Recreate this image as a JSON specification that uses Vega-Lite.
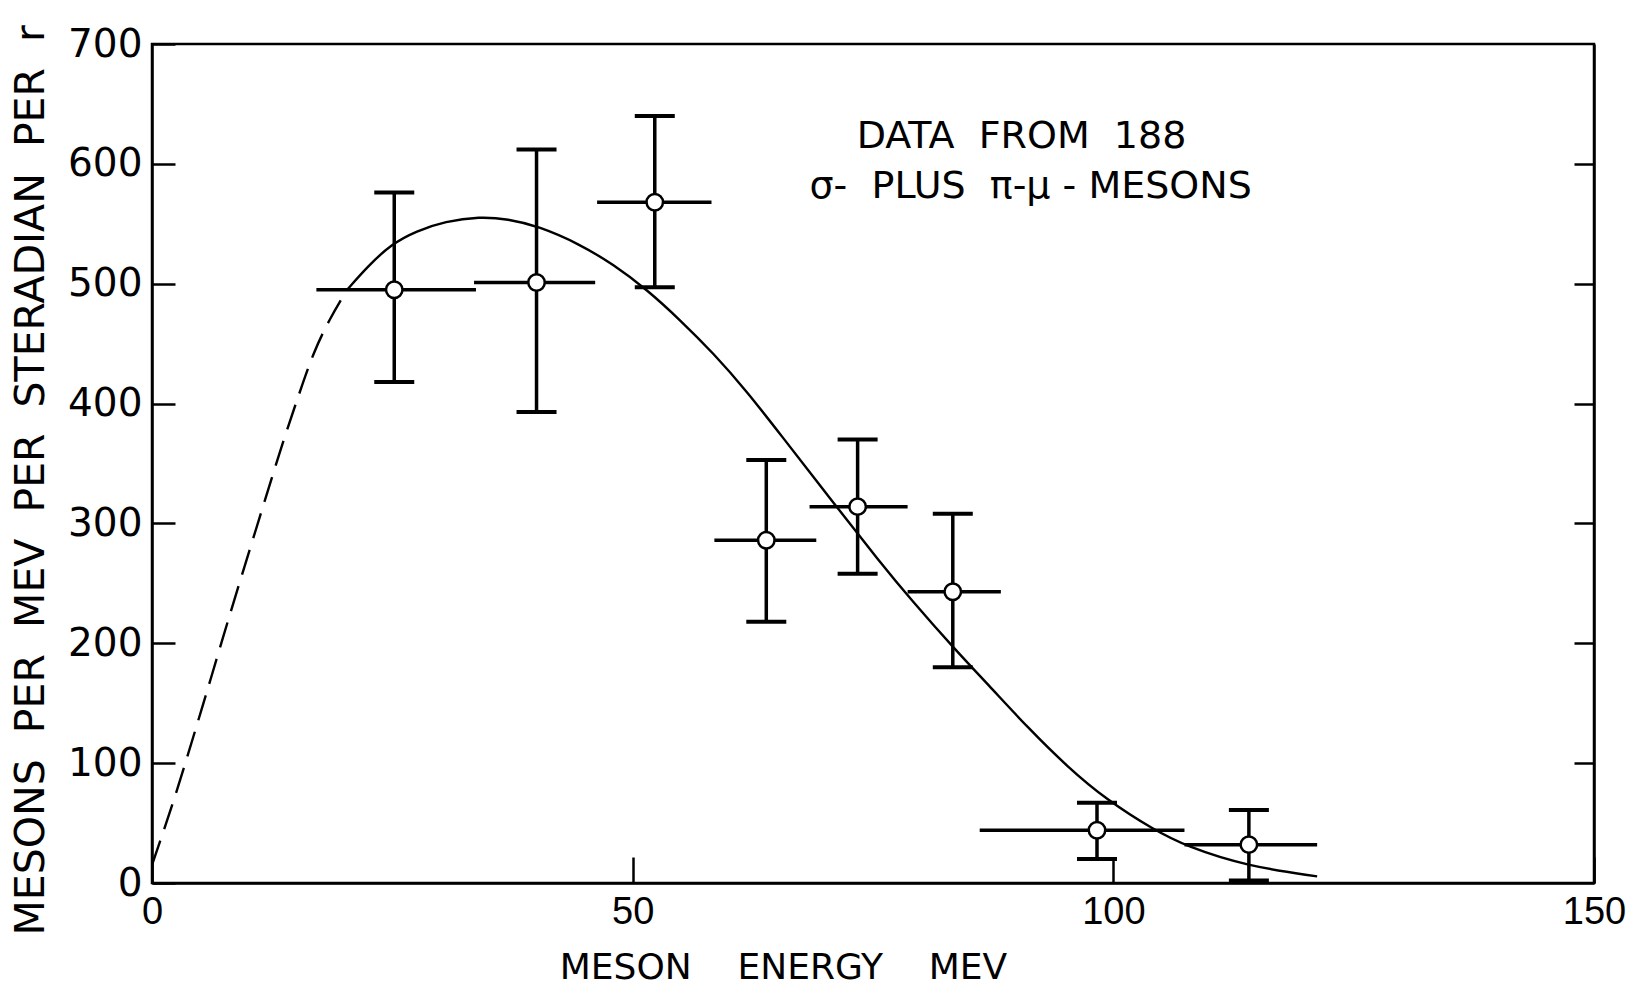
{
  "$schema": "https://vega.github.io/schema/vega-lite/v6.json",
  "width": 1442,
  "height": 839,
  "autosize": "none",
  "padding": {"left": 152, "top": 44, "right": 45, "bottom": 103},
  "background": "white",
  "config": {
    "view": {"stroke": "black", "strokeWidth": 2.5},
    "axis": {
      "grid": false,
      "domainColor": "black",
      "domainWidth": 2.5,
      "tickColor": "black",
      "tickWidth": 2.5,
      "labelColor": "black",
      "titleColor": "black",
      "labelFlush": false,
      "labelOverlap": false,
      "titleFontWeight": "normal"
    }
  },
  "datasets": {
    "points": [
      {"energy": 25.2, "rate": 495, "rate_lo": 418, "rate_hi": 576, "energy_lo": 17.1, "energy_hi": 33.7},
      {"energy": 40.0, "rate": 501, "rate_lo": 393, "rate_hi": 612, "energy_lo": 33.5, "energy_hi": 46.1},
      {"energy": 52.3, "rate": 568, "rate_lo": 497, "rate_hi": 640, "energy_lo": 46.3, "energy_hi": 58.2},
      {"energy": 63.9, "rate": 286, "rate_lo": 218, "rate_hi": 353, "energy_lo": 58.5, "energy_hi": 69.1},
      {"energy": 73.4, "rate": 314, "rate_lo": 258, "rate_hi": 370, "energy_lo": 68.4, "energy_hi": 78.6},
      {"energy": 83.3, "rate": 243, "rate_lo": 180, "rate_hi": 308, "energy_lo": 78.6, "energy_hi": 88.3},
      {"energy": 98.3, "rate": 44, "rate_lo": 20, "rate_hi": 67, "energy_lo": 86.1, "energy_hi": 107.4},
      {"energy": 114.1, "rate": 32, "rate_lo": 2, "rate_hi": 61, "energy_lo": 107.4, "energy_hi": 121.2}
    ],
    "curve": [
      {"energy": 0, "rate": 15, "part": "dashed"},
      {"energy": 2.3, "rate": 69, "part": "dashed"},
      {"energy": 4.3, "rate": 122, "part": "dashed"},
      {"energy": 6.25, "rate": 174, "part": "dashed"},
      {"energy": 8.2, "rate": 227, "part": "dashed"},
      {"energy": 10.2, "rate": 279, "part": "dashed"},
      {"energy": 12.0, "rate": 326, "part": "dashed"},
      {"energy": 13.7, "rate": 370, "part": "dashed"},
      {"energy": 15.3, "rate": 408, "part": "dashed"},
      {"energy": 16.8, "rate": 443, "part": "dashed"},
      {"energy": 18.5, "rate": 471, "part": "dashed"},
      {"energy": 20.3, "rate": 495, "part": "dashed"},
      {"energy": 20.3, "rate": 495, "part": "solid"},
      {"energy": 22.5, "rate": 515, "part": "solid"},
      {"energy": 24.9, "rate": 533, "part": "solid"},
      {"energy": 27.5, "rate": 544, "part": "solid"},
      {"energy": 30.5, "rate": 552, "part": "solid"},
      {"energy": 34.1, "rate": 556, "part": "solid"},
      {"energy": 37.0, "rate": 554, "part": "solid"},
      {"energy": 40.2, "rate": 548, "part": "solid"},
      {"energy": 44.5, "rate": 533, "part": "solid"},
      {"energy": 48.0, "rate": 516, "part": "solid"},
      {"energy": 51.5, "rate": 495, "part": "solid"},
      {"energy": 54.9, "rate": 470, "part": "solid"},
      {"energy": 58.4, "rate": 442, "part": "solid"},
      {"energy": 61.9, "rate": 410, "part": "solid"},
      {"energy": 65.3, "rate": 375, "part": "solid"},
      {"energy": 70.9, "rate": 317, "part": "solid"},
      {"energy": 75.7, "rate": 268, "part": "solid"},
      {"energy": 79.0, "rate": 236, "part": "solid"},
      {"energy": 83.4, "rate": 196, "part": "solid"},
      {"energy": 87.5, "rate": 161, "part": "solid"},
      {"energy": 91.0, "rate": 130.5, "part": "solid"},
      {"energy": 95.2, "rate": 97, "part": "solid"},
      {"energy": 99.3, "rate": 69.4, "part": "solid"},
      {"energy": 104.2, "rate": 44.4, "part": "solid"},
      {"energy": 107.6, "rate": 30.5, "part": "solid"},
      {"energy": 113.9, "rate": 14, "part": "solid"},
      {"energy": 121.2, "rate": 5.5, "part": "solid"}
    ]
  },
  "resolve": {"axis": {"y": "independent"}},
  "layer": [
    {
      "data": {"name": "curve"},
      "transform": [{"filter": "datum.part === 'dashed'"}],
      "mark": {"type": "line", "color": "black", "strokeWidth": 2.4, "strokeDash": [26, 12], "interpolate": "basis"},
      "encoding": {
        "x": {
          "field": "energy", "type": "quantitative",
          "scale": {"domain": [0, 150], "nice": false},
          "axis": {
            "values": [0, 50, 100, 150],
            "tickSize": -26,
            "labelFont": "Liberation Sans",
            "labelFontSize": 38,
            "labelPadding": 36,
            "title": "MESON\u00a0\u00a0\u00a0 ENERGY\u00a0\u00a0\u00a0 MEV",
            "titleFont": "DejaVu Sans",
            "titleFontSize": 36,
            "titleX": 631,
            "titleY": 84,
            "titleAlign": "center",
            "titleBaseline": "middle"
          }
        },
        "y": {
          "field": "rate", "type": "quantitative",
          "scale": {"domain": [0, 700], "nice": false},
          "axis": {
            "orient": "left",
            "values": [0, 100, 200, 300, 400, 500, 600, 700],
            "tickSize": -23,
            "labelFont": "DejaVu Sans",
            "labelFontSize": 39,
            "labelPadding": 33,
            "title": "MESONS\u00a0 PER\u00a0 MEV\u00a0 PER\u00a0 STERADIAN\u00a0 PER\u00a0 r",
            "titleFont": "DejaVu Sans",
            "titleFontSize": 41,
            "titleAngle": 270,
            "titleX": -121,
            "titleY": 891,
            "titleAlign": "left",
            "titleBaseline": "middle"
          }
        }
      }
    },
    {
      "data": {"name": "curve"},
      "transform": [{"filter": "datum.part === 'solid'"}],
      "mark": {"type": "line", "color": "black", "strokeWidth": 2.4, "interpolate": "basis"},
      "encoding": {
        "x": {"field": "energy", "type": "quantitative", "scale": {"domain": [0, 150], "nice": false}},
        "y": {
          "field": "rate", "type": "quantitative",
          "scale": {"domain": [0, 700], "nice": false},
          "axis": {"orient": "right", "values": [100, 200, 300, 400, 500, 600], "tickSize": -20, "labels": false, "title": null}
        }
      }
    },
    {
      "data": {"name": "points"},
      "mark": {"type": "rule", "color": "black", "strokeWidth": 3.5},
      "encoding": {
        "x": {"field": "energy_lo", "type": "quantitative"},
        "x2": {"field": "energy_hi"},
        "y": {"field": "rate", "type": "quantitative", "axis": null}
      }
    },
    {
      "data": {"name": "points"},
      "mark": {"type": "rule", "color": "black", "strokeWidth": 3.5},
      "encoding": {
        "x": {"field": "energy", "type": "quantitative"},
        "y": {"field": "rate_lo", "type": "quantitative", "axis": null},
        "y2": {"field": "rate_hi"}
      }
    },
    {
      "data": {"name": "points"},
      "mark": {"type": "tick", "orient": "horizontal", "color": "black", "size": 40, "thickness": 4, "opacity": 1},
      "encoding": {
        "x": {"field": "energy", "type": "quantitative"},
        "y": {"field": "rate_hi", "type": "quantitative", "axis": null}
      }
    },
    {
      "data": {"name": "points"},
      "mark": {"type": "tick", "orient": "horizontal", "color": "black", "size": 40, "thickness": 4, "opacity": 1},
      "encoding": {
        "x": {"field": "energy", "type": "quantitative"},
        "y": {"field": "rate_lo", "type": "quantitative", "axis": null}
      }
    },
    {
      "data": {"name": "points"},
      "mark": {"type": "point", "shape": "circle", "filled": true, "fill": "white", "stroke": "black", "strokeWidth": 2.5, "size": 270, "opacity": 1},
      "encoding": {
        "x": {"field": "energy", "type": "quantitative"},
        "y": {"field": "rate", "type": "quantitative", "axis": null}
      }
    },
    {
      "data": {"values": [{"label": "DATA\u00a0 FROM\u00a0 188"}]},
      "mark": {"type": "text", "font": "DejaVu Sans", "fontSize": 38, "color": "black", "align": "center", "baseline": "middle"},
      "encoding": {
        "x": {"datum": 90.45, "type": "quantitative"},
        "y": {"datum": 622.8, "type": "quantitative", "axis": null},
        "text": {"field": "label"}
      }
    },
    {
      "data": {"values": [{"label": "σ-\u00a0 PLUS\u00a0 π-μ - MESONS"}]},
      "mark": {"type": "text", "font": "DejaVu Sans", "fontSize": 38, "color": "black", "align": "center", "baseline": "middle"},
      "encoding": {
        "x": {"datum": 91.4, "type": "quantitative"},
        "y": {"datum": 581, "type": "quantitative", "axis": null},
        "text": {"field": "label"}
      }
    }
  ]
}
